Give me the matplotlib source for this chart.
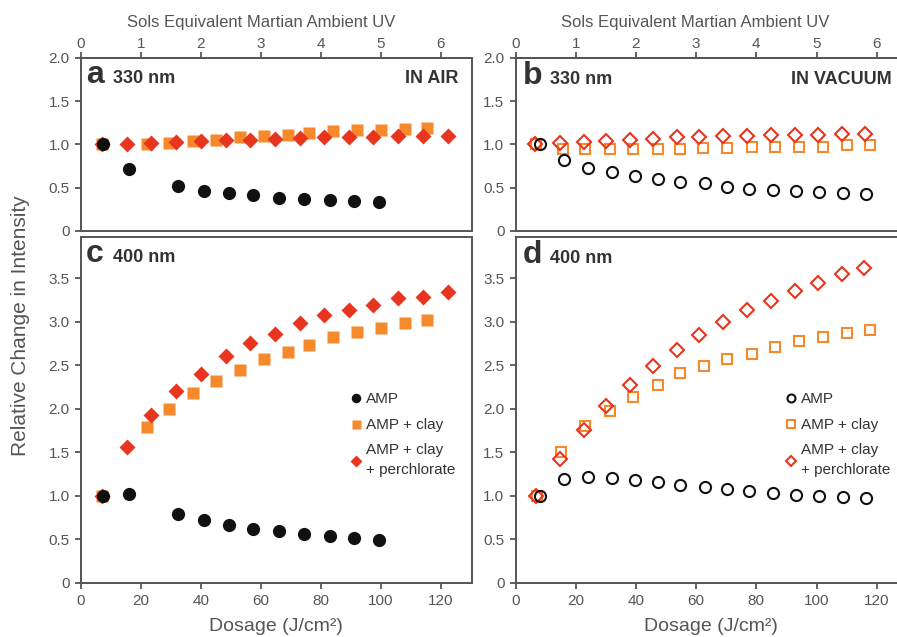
import numpy as np
import matplotlib
matplotlib.use("Agg")
import matplotlib.pyplot as plt

plt.rcParams['font.family'] = ['Liberation Sans', 'DejaVu Sans']

# dosage (J/cm2) and relative change
# panel a: 330 nm in air
amp_x_a = [7.5, 16, 32.5, 41, 49.5, 57.5, 66, 74.5, 83, 91, 99.5]
amp_y_a = [1.0, 0.71, 0.52, 0.465, 0.435, 0.41, 0.385, 0.37, 0.355, 0.345, 0.335]
clay_x_a = [7, 22, 29.5, 37.5, 45, 53, 61, 69, 76, 84, 92, 100, 108, 115.5]
clay_y_a = [1.0, 1.0, 1.01, 1.035, 1.05, 1.08, 1.10, 1.11, 1.13, 1.15, 1.165, 1.17, 1.18, 1.19]
perc_x_a = [7, 15.3, 23.4, 31.8, 40, 48.3, 56.4, 64.9, 73.1, 81.2, 89.3, 97.4, 105.9, 114, 122.3]
perc_y_a = [1.0, 1.0, 1.01, 1.03, 1.035, 1.05, 1.055, 1.065, 1.075, 1.085, 1.09, 1.09, 1.095, 1.095, 1.10]

# panel c: 400 nm in air
amp_x_c = amp_x_a
amp_y_c = [1.0, 1.02, 0.79, 0.725, 0.665, 0.62, 0.59, 0.565, 0.535, 0.51, 0.495]
clay_x_c = clay_x_a
clay_y_c = [1.0, 1.785, 2.0, 2.18, 2.32, 2.45, 2.57, 2.655, 2.73, 2.82, 2.88, 2.93, 2.98, 3.02]
perc_x_c = perc_x_a
perc_y_c = [1.0, 1.555, 1.93, 2.2, 2.4, 2.61, 2.76, 2.86, 2.99, 3.08, 3.13, 3.19, 3.275, 3.29, 3.345]

# panel b: 330 nm in vacuum
amp_x_b = [8, 16, 24, 32, 39.7, 47.5, 54.7, 63, 70.2, 77.7, 85.4, 93.2, 100.9, 108.7, 116.4]
amp_y_b = [1.0, 0.815, 0.73, 0.68, 0.635, 0.60, 0.57, 0.55, 0.51, 0.49, 0.47, 0.46, 0.45, 0.44, 0.425]
clay_x_b = [6.8, 15.7, 23.1, 31.4, 39.1, 47.4, 54.7, 62.4, 70.2, 78.5, 86.2, 94.3, 102, 110, 117.8]
clay_y_b = [1.0, 0.95, 0.95, 0.95, 0.95, 0.95, 0.95, 0.96, 0.96, 0.97, 0.975, 0.975, 0.975, 0.99, 0.99]
perc_x_b = [6.5, 14.8, 22.8, 30.1, 38, 45.8, 53.8, 61.1, 69, 76.8, 84.8, 92.9, 100.6, 108.4, 116.1]
perc_y_b = [1.0, 1.01, 1.025, 1.035, 1.055, 1.065, 1.08, 1.085, 1.095, 1.10, 1.105, 1.11, 1.11, 1.115, 1.12]

# panel d: 400 nm in vacuum
amp_x_d = amp_x_b
amp_y_d = [1.0, 1.195, 1.215, 1.2, 1.185, 1.155, 1.125, 1.1, 1.075, 1.05, 1.03, 1.01, 1.0, 0.99, 0.975]
clay_x_d = [7.3, 15.1, 23.1, 31.4, 39.1, 47.2, 54.7, 62.6, 70.4, 78.5, 86.3, 94.3, 102, 110, 117.8]
clay_y_d = [1.0, 1.5, 1.8, 1.975, 2.14, 2.27, 2.41, 2.49, 2.57, 2.63, 2.715, 2.78, 2.82, 2.875, 2.91]
perc_x_d = [6.8, 14.8, 22.8, 30.1, 38, 45.6, 53.6, 60.9, 69, 76.8, 84.8, 92.9, 100.6, 108.4, 115.8]
perc_y_d = [1.0, 1.42, 1.75, 2.03, 2.275, 2.49, 2.67, 2.85, 3.0, 3.13, 3.24, 3.35, 3.445, 3.55, 3.62]

labels = ["AMP", "AMP + clay", "AMP + clay\n+ perchlorate"]

BLACK = "#111111"
ORANGE = "#f5892c"
RED = "#e8351f"
SPINE = "#555555"
TXT = "#555555"
DARK = "#333333"

W, H = 897, 637
fig = plt.figure(figsize=(W / 100, H / 100), dpi=100)


def rect(x0, x1, ytop, ybot):
    return [x0 / W, 1 - ybot / H, (x1 - x0) / W, (ybot - ytop) / H]


ax_a = fig.add_axes(rect(80.7, 471.7, 57.7, 231))
ax_b = fig.add_axes(rect(515.5, 515.5 + 130 * 3.01, 57.7, 231))
ax_c = fig.add_axes(rect(80.7, 471.7, 237, 582.7))
ax_d = fig.add_axes(rect(515.5, 515.5 + 130 * 3.01, 237, 582.7))


def style(ax, top_row):
    ax.set_xlim(0, 130.3 if ax in (ax_a, ax_c) else 130)
    if top_row:
        ax.set_ylim(0, 2)
        yt = [0, 0.5, 1.0, 1.5, 2.0]
    else:
        ax.set_ylim(0, 3.974)
        yt = [0, 0.5, 1.0, 1.5, 2.0, 2.5, 3.0, 3.5]
    ax.set_yticks(yt)
    ax.set_yticklabels(["0"] + ["%.1f" % v for v in yt[1:]])
    ax.set_xticks([0, 20, 40, 60, 80, 100, 120])
    for s in ax.spines.values():
        s.set_color(SPINE)
        s.set_linewidth(1.4)
    ax.tick_params(direction='out', length=4, width=1.3, color=SPINE,
                   labelcolor=TXT, labelsize=11, pad=4)
    if top_row:
        ax.tick_params(bottom=False, labelbottom=False)
        sec = ax.secondary_xaxis('top', functions=(lambda d: d / 20.0, lambda s: s * 20.0))
        sec.set_xticks([0, 1, 2, 3, 4, 5, 6])
        sec.tick_params(direction='out', length=4, width=1.3, color=SPINE,
                        labelcolor=TXT, labelsize=11, pad=1)
        sec.spines['top'].set_color(SPINE)
        sec.spines['top'].set_linewidth(1.4)
    else:
        ax.set_xlabel("Dosage (J/cm²)", fontsize=14, color=TXT, labelpad=7)


for ax, top in [(ax_a, True), (ax_b, True), (ax_c, False), (ax_d, False)]:
    style(ax, top)


def add_legend(ax, handles):
    leg = ax.legend(handles, labels, loc='upper left', bbox_to_anchor=(0.67, 0.568),
                    frameon=False, fontsize=11, handletextpad=0.1, handlelength=1.0,
                    labelspacing=0.75, markerscale=0.72, borderaxespad=0)
    for t in leg.get_texts():
        t.set_color(DARK)
        t.set_linespacing(1.55)


# filled markers, in air
for ax, cx, cy, px, py, ax_, ay in [
        (ax_a, clay_x_a, clay_y_a, perc_x_a, perc_y_a, amp_x_a, amp_y_a),
        (ax_c, clay_x_c, clay_y_c, perc_x_c, perc_y_c, amp_x_c, amp_y_c)]:
    h2, = ax.plot(cx, cy, 's', color=ORANGE, ms=9, mec='none', clip_on=False)
    h3, = ax.plot(px, py, 'D', color=RED, ms=7.8, mec='none', clip_on=False)
    h1, = ax.plot(ax_, ay, 'o', color=BLACK, ms=9.5, mec='none', clip_on=False)
add_legend(ax_c, [h1, h2, h3])

# open markers, in vacuum
for ax, cx, cy, px, py, ax_, ay in [
        (ax_b, clay_x_b, clay_y_b, perc_x_b, perc_y_b, amp_x_b, amp_y_b),
        (ax_d, clay_x_d, clay_y_d, perc_x_d, perc_y_d, amp_x_d, amp_y_d)]:
    h2, = ax.plot(cx, cy, 's', mfc='none', mec=ORANGE, mew=1.5, ms=7.5, clip_on=False)
    h3, = ax.plot(px, py, 'D', mfc='none', mec=RED, mew=1.5, ms=7.2, clip_on=False)
    h1, = ax.plot(ax_, ay, 'o', mfc='none', mec=BLACK, mew=1.5, ms=8, clip_on=False)
add_legend(ax_d, [h1, h2, h3])

# panel letters and headings
for ax, letter, wl, yb, side in [(ax_a, "a", "330 nm", 1.71, "IN AIR"),
                                 (ax_b, "b", "330 nm", 1.70, "IN VACUUM"),
                                 (ax_c, "c", "400 nm", 3.69, None),
                                 (ax_d, "d", "400 nm", 3.67, None)]:
    x0 = 1.8 if ax in (ax_a, ax_c) else 2.5
    ax.text(x0, yb, letter, fontsize=23, fontweight='bold', color=DARK, va='baseline')
    ax.text(x0 + 9, yb, wl, fontsize=13, fontweight='bold', color=DARK, va='baseline')
    if side:
        xr = 125.8 if ax is ax_a else 125.0
        ax.text(xr, yb, side, fontsize=13, fontweight='bold', color=DARK,
                va='baseline', ha='right')

fig.text(261 / W, 1 - 22 / H, "Sols Equivalent Martian Ambient UV", fontsize=12,
         color=TXT, ha='center', va='center')
fig.text(695.5 / W, 1 - 22 / H, "Sols Equivalent Martian Ambient UV", fontsize=12,
         color=TXT, ha='center', va='center')
fig.text(21 / W, 1 - 326 / H, "Relative Change in Intensity", fontsize=15,
         color=TXT, ha='center', va='center', rotation=90)

fig.savefig("out.png", dpi=100)
